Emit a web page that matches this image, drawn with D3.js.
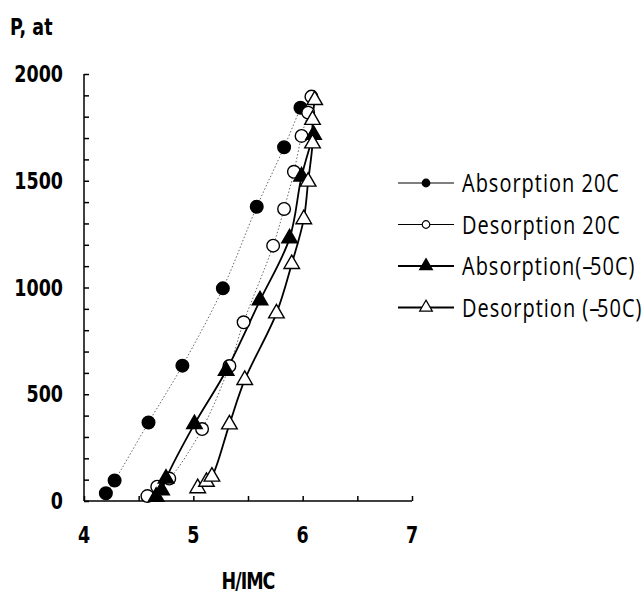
<!DOCTYPE html>
<html lang="en">
<head>
    <meta charset="UTF-8">
    <title>P vs H/IMC</title>
    <script src="https://d3js.org/d3.v7.min.js"></script>
</head>
<body style="margin:0;background:#fff">

<style>
.tick-label {
    font: bold 17.5px "DejaVu Sans", Verdana, sans-serif;
    fill: #000;
}
.legend-label {
    font: 20px "Open Sans", sans-serif;
    letter-spacing: 1px;
    fill: #000;
}
.legend-label .dash {
    letter-spacing: -2.5px;
}
</style>

<div id="chart-area"></div>

<script>
// values: [H/IMC, P (at)]
const absorption20 = [[4.20, 36], [4.28, 96], [4.59, 368], [4.90, 634], [5.27, 996],
    [5.58, 1378], [5.83, 1657], [5.98, 1842]];
const desorption20 = [[4.58, 23], [4.67, 67], [4.78, 105], [5.08, 337], [5.33, 632],
    [5.46, 837], [5.73, 1196], [5.83, 1368], [5.92, 1542], [5.99, 1710], [6.05, 1819], [6.08, 1894]];
const absorptionM50 = [[4.66, 20], [4.71, 50], [4.75, 105], [5.01, 360], [5.30, 610],
    [5.61, 940], [5.88, 1230], [5.99, 1520], [6.10, 1715]];
const desorptionM50 = [[5.04, 60], [5.12, 90], [5.17, 114], [5.33, 359], [5.47, 567],
    [5.76, 879], [5.90, 1110], [6.01, 1320], [6.05, 1496], [6.09, 1675], [6.09, 1785], [6.11, 1878]];

const seriesNames = ["Absorption 20C", "Desorption 20C", "Absorption(--50C)", "Desorption (--50C)"];
const xTicks = [4, 5, 6, 7];
const yTicks = [0, 500, 1000, 1500, 2000];
const xTitle = "H/IMC";
const yTitle = "P, at";

const width = 644;
const height = 594;
const stretch = 1.3;   // text in the picture is drawn taller than wide

const svg = d3.select("#chart-area")
    .append("svg")
        .attr("width", width)
        .attr("height", height);

const x = d3.scaleLinear().domain([4, 7]).range([84, 412]);
const y = d3.scaleLinear().domain([0, 2000]).range([501, 74]);

// series styles
const series = [
    {name: seriesNames[0], data: absorption20, shape: "circle", fill: "#000", line: "dot"},
    {name: seriesNames[1], data: desorption20, shape: "circle", fill: "#fff", line: "dot"},
    {name: seriesNames[2], data: absorptionM50, shape: "triangle", fill: "#000", line: "solid"},
    {name: seriesNames[3], data: desorptionM50, shape: "triangle", fill: "#fff", line: "solid"}
];

const line = d3.line()
    .x(d => x(d[0]))
    .y(d => y(d[1]))
    .curve(d3.curveCatmullRom.alpha(0.5));

const circleSym = d3.symbol().type(d3.symbolCircle).size(125);
const triSym = d3.symbol().type(d3.symbolTriangle).size(105);

// axes
const yAxis = d3.axisRight(y).tickValues(d3.range(0, 2001, 100)).tickSize(5).tickFormat("");
const xAxis = d3.axisTop(x).tickValues(d3.range(4, 7.01, 0.5)).tickSize(5).tickFormat("");

svg.append("g")
    .attr("transform", `translate(${x(4)},0)`)
    .call(yAxis)
    .call(g => g.select(".domain").attr("d", `M0,${y(2000)}V${y(0)}`))
    .call(g => g.selectAll("path, line").attr("stroke", "#000").attr("stroke-width", 1.5));

svg.append("g")
    .attr("transform", `translate(0,${y(0)})`)
    .call(xAxis)
    .call(g => g.select(".domain").attr("d", `M${x(4)},0H${x(7)}`))
    .call(g => g.selectAll("path, line").attr("stroke", "#000").attr("stroke-width", 1.5));

// tick labels
svg.selectAll("text.ylab")
    .data(yTicks)
    .join("text")
    .attr("class", "tick-label ylab")
    .attr("text-anchor", "end")
    .attr("transform", d => `translate(63,${y(d) + 8}) scale(1,${stretch})`)
    .text(d => d);

svg.selectAll("text.xlab")
    .data(xTicks)
    .join("text")
    .attr("class", "tick-label xlab")
    .attr("text-anchor", "middle")
    .attr("transform", d => `translate(${x(d)},${y(0) + 42}) scale(1,${stretch})`)
    .text(d => d);

svg.append("text")
    .attr("class", "tick-label")
    .attr("transform", `translate(10,35) scale(1,${stretch})`)
    .text(yTitle);

svg.append("text")
    .attr("class", "tick-label")
    .attr("text-anchor", "middle")
    .attr("letter-spacing", "-1px")
    .attr("transform", `translate(${x(5.5)},589) scale(1,${stretch})`)
    .text(xTitle);

// lines
series.forEach(s => {
    svg.append("path")
        .datum(s.data)
        .attr("fill", "none")
        .attr("stroke", s.line === "dot" ? "#666" : "#000")
        .attr("stroke-width", s.line === "dot" ? 1 : 1.8)
        .attr("stroke-dasharray", s.line === "dot" ? "1.5,2" : null)
        .attr("d", line);
});

// markers
series.forEach(s => {
    svg.append("g")
        .selectAll("path")
        .data(s.data)
        .join("path")
        .attr("transform", d => `translate(${x(d[0])},${y(d[1])})`)
        .attr("d", s.shape === "circle" ? circleSym : triSym)
        .attr("fill", s.fill)
        .attr("stroke", "#000")
        .attr("stroke-width", 1.4);
});

// legend
const legend = svg.append("g");
const rows = legend.selectAll("g")
    .data(series)
    .join("g")
    .attr("transform", (d, i) => `translate(0,${183 + i * 41.5})`);

rows.append("line")
    .attr("x1", 398).attr("x2", 454)
    .attr("stroke", "#000")
    .attr("stroke-width", d => d.line === "dot" ? 1.2 : 2);

rows.append("path")
    .attr("transform", "translate(426,0)")
    .attr("d", d => d.shape === "circle"
        ? d3.symbol().type(d3.symbolCircle).size(45)()
        : d3.symbol().type(d3.symbolTriangle).size(70)())
    .attr("fill", d => d.fill)
    .attr("stroke", "#000")
    .attr("stroke-width", 1.2);

// the double dash is squeezed tight in the original
rows.append("text")
    .attr("class", "legend-label")
    .attr("transform", `translate(462,9) scale(1,${stretch})`)
    .each(function(d) {
        const parts = d.name.split("--");
        const t = d3.select(this);
        parts.forEach((p, i) => {
            if (i > 0) t.append("tspan").attr("class", "dash").text("--");
            t.append("tspan").text(p);
        });
    });
</script>

</body>
</html>
